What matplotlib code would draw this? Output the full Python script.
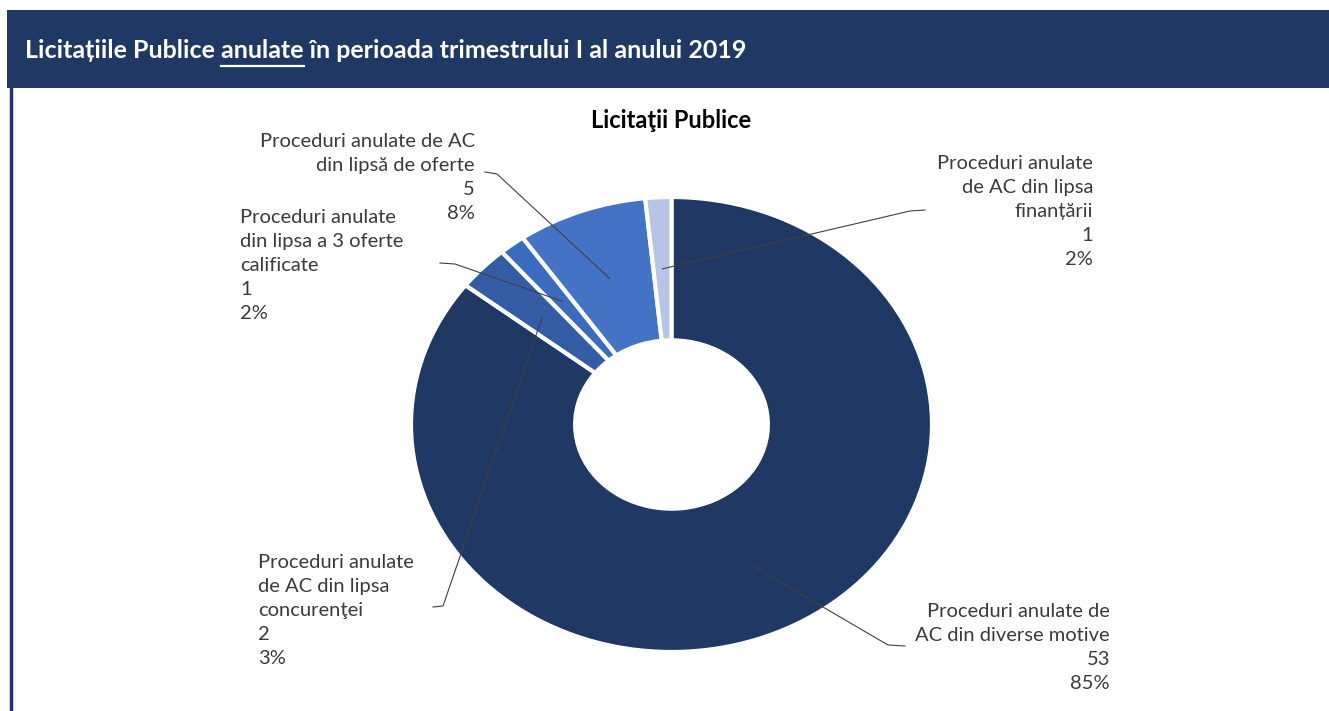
import numpy as np
import matplotlib
matplotlib.use('Agg')
import matplotlib.pyplot as plt
from matplotlib.patches import Rectangle
from matplotlib.lines import Line2D
from matplotlib.transforms import IdentityTransform

plt.rcParams['font.family'] = ['Lato', 'DejaVu Sans']

W, H = 1329, 711

# date
categorii = ['Proceduri anulate de\nAC din diverse motive',
             'Proceduri anulate\nde AC din lipsa\nconcurenţei',
             'Proceduri anulate\ndin lipsa a 3 oferte\ncalificate',
             'Proceduri anulate de AC\ndin lipsă de oferte',
             'Proceduri anulate\nde AC din lipsa\nfinanțării']
valori = [53, 2, 1, 5, 1]
culori = ['#203864', '#345CA5', '#3B6BBE', '#4472C4', '#B8C4E4']

titlu_antet = 'Licitațiile Publice anulate în perioada trimestrului I al anului 2019'
titlu_grafic = 'Licitaţii Publice'

# pozitia etichetelor (pixeli, de sus): x, y prima linie, aliniere, capat linie
etichete = [
    (1110, 610, 'right', [(905, 646), (888, 645)]),
    (258, 561, 'left', [(433, 607), (443, 606)]),
    (240, 216, 'left', [(440, 263), (455, 264)]),
    (475, 140, 'right', [(485, 172), (497, 174)]),
    (1093, 162, 'right', [(925, 210), (910, 211)]),
]

fig = plt.figure(figsize=(W / 100, H / 100), dpi=100)
fig.patch.set_facecolor('white')

# antet
culoare_antet = '#203864'
fig.add_artist(Rectangle((7 / W, 1 - 88 / H), (W - 7) / W, 78 / H,
                         transform=fig.transFigure, color=culoare_antet, lw=0))
fig.add_artist(Line2D([11 / W, 11 / W], [0, 1 - 88 / H], transform=fig.transFigure,
                      color=culoare_antet, lw=2.5))

x0, y0 = 25 / W, 1 - 50 / H
fs_antet = 18
fig.text(x0, y0, titlu_antet, color='white', fontsize=fs_antet, fontweight='bold',
         va='center', ha='left')

# subliniere "anulate"
renderer = fig.canvas.get_renderer()
def latime(s):
    t = fig.text(0, 0, s, fontsize=fs_antet, fontweight='bold')
    w = t.get_window_extent(renderer).width
    t.remove()
    return w
x_end = x0 * W + latime('Licitațiile Publice anulate')
x_start = x_end - latime('anulate')
y_sub = H - 66
fig.add_artist(Line2D([x_start, x_end], [y_sub, y_sub], transform=IdentityTransform(),
                      color='white', lw=1.6))

# titlu grafic
fig.text(671 / W, 1 - 121 / H, titlu_grafic, ha='center', va='center',
         fontsize=17, fontweight='bold', color='black')

# inel
ax = fig.add_axes([411 / W, (H - 652) / H, 521 / W, 455 / H])
wedges, _ = ax.pie(valori, colors=culori, startangle=90, counterclock=False, radius=1,
                   wedgeprops=dict(width=0.63, edgecolor='white', linewidth=3))
ax.set_xlim(-1, 1)
ax.set_ylim(-1, 1)
ax.set_aspect('auto')
ax.axis('off')

total = sum(valori)
procente = [f'{round(v / total * 100)}%' for v in valori]

for w, cat, v, p, (lx, ly, ha, stub) in zip(wedges, categorii, valori, procente, etichete):
    theta = np.deg2rad((w.theta1 + w.theta2) / 2)
    r = 0.685
    px, py = ax.transData.transform((r * np.cos(theta), r * np.sin(theta)))
    xs = [stub[0][0], stub[1][0], px]
    ys = [H - stub[0][1], H - stub[1][1], py]
    fig.add_artist(Line2D(xs, ys, transform=IdentityTransform(), color='#404040', lw=0.8))
    linii = cat.split('\n') + [str(v), p]
    for i, linie in enumerate(linii):
        fig.text(lx / W, 1 - (ly + 24 * i + 7) / H, linie, ha=ha, va='baseline',
                 fontsize=14.5, color='#3b3b3b')

fig.savefig('out.png', dpi=100)
